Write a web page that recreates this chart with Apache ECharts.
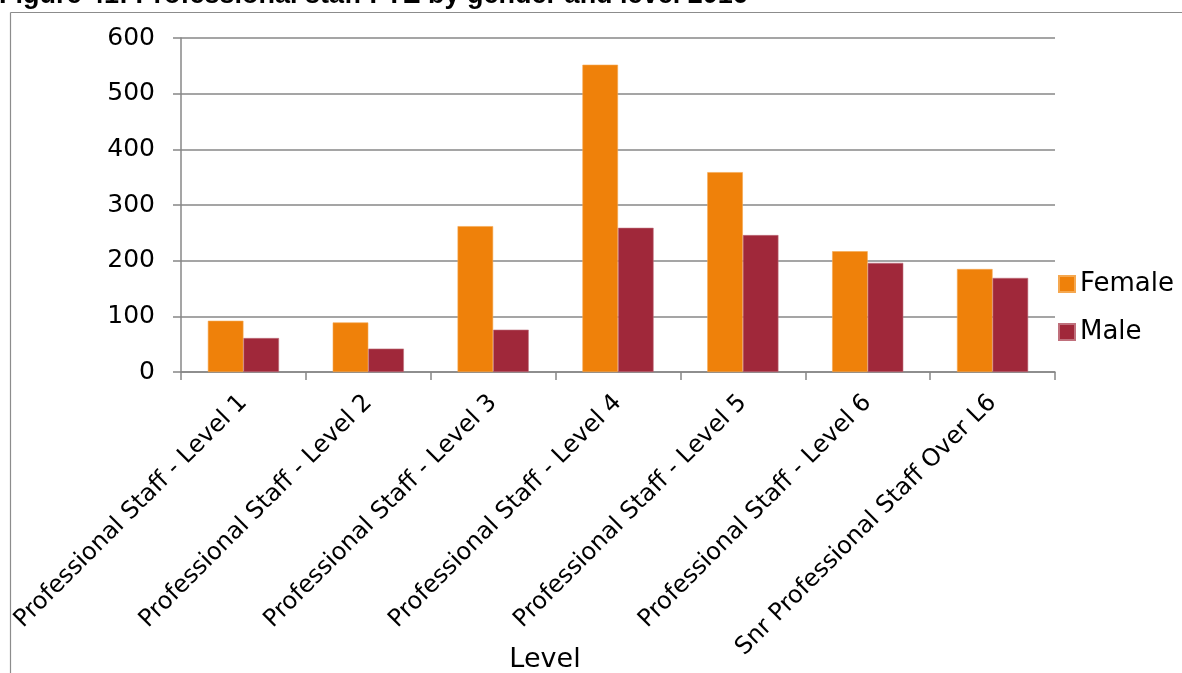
<!DOCTYPE html>
<html>
<head>
<meta charset="utf-8">
<script src="https://cdn.jsdelivr.net/npm/echarts@6/dist/echarts.min.js"></script>
<style>
  html, body { margin: 0; padding: 0; background: #fff; }
  #chart { width: 1182px; height: 673px; }
</style>
</head>
<body>
<div id="chart"></div>
<script>
// Professional staff FTE by gender and level, 2016
const levels = [
  'Professional Staff - Level 1',
  'Professional Staff - Level 2',
  'Professional Staff - Level 3',
  'Professional Staff - Level 4',
  'Professional Staff - Level 5',
  'Professional Staff - Level 6',
  'Snr Professional Staff Over L6'
];
const female = [92, 89, 262, 552, 359, 217, 185];
const male = [61, 42, 76, 259, 246, 196, 169];
const seriesNames = ['Female', 'Male'];
const yTicks = { min: 0, max: 600, interval: 100 };
const titleText = 'Figure 41: Professional staff FTE by gender and level 2016';
const axisTitle = 'Level';

const font = '"DejaVu Sans", Verdana, sans-serif';
const gridColor = '#878787';

const chart = echarts.init(document.getElementById('chart'), null, { renderer: 'canvas' });
chart.setOption({
  backgroundColor: '#ffffff',
  animation: false,
  grid: { left: 181, right: 127, top: 38, bottom: 301, containLabel: false },
  legend: {
    orient: 'vertical',
    left: 1058,
    top: 271,
    padding: 0,
    itemWidth: 16,
    itemHeight: 16,
    itemGap: 22,
    icon: 'rect',
    textStyle: { fontFamily: font, fontSize: 26, lineHeight: 26, color: '#000' },
    data: seriesNames
  },
  xAxis: {
    type: 'category',
    data: levels,
    axisLine: { show: true, lineStyle: { color: gridColor, width: 1.5 } },
    axisTick: { show: true, length: 8, alignWithLabel: false, lineStyle: { color: gridColor, width: 1.5 } },
    axisLabel: {
      interval: 0,
      rotate: 45,
      margin: 27,
      fontFamily: font,
      fontSize: 24,
      color: '#000'
    },
    splitLine: { show: false }
  },
  yAxis: {
    type: 'value',
    min: yTicks.min,
    max: yTicks.max,
    interval: yTicks.interval,
    axisLine: { show: true, lineStyle: { color: gridColor, width: 1.5 } },
    axisTick: { show: true, length: 8, lineStyle: { color: gridColor, width: 1.5 } },
    axisLabel: { margin: 26, fontFamily: font, fontSize: 25, color: '#000' },
    splitLine: { show: true, lineStyle: { color: gridColor, width: 1.5 } }
  },
  series: [
    {
      name: seriesNames[0],
      type: 'bar',
      data: female,
      barGap: '0%',
      barCategoryGap: '43%',
      itemStyle: { color: '#EF810A', borderColor: '#F5A850', borderWidth: 0.6 }
    },
    {
      name: seriesNames[1],
      type: 'bar',
      data: male,
      itemStyle: { color: '#A0283A', borderColor: '#C0707C', borderWidth: 0.6 }
    }
  ],
  graphic: [
    {
      type: 'text',
      left: -1,
      top: -18,
      style: {
        text: titleText,
        fontFamily: '"Liberation Sans", Arial, sans-serif',
        fontWeight: 'bold',
        fontSize: 27,
        fill: '#000'
      }
    },
    {
      type: 'line',
      shape: { x1: 10.5, y1: 12.5, x2: 1182, y2: 12.5 },
      style: { stroke: '#8c8c8c', lineWidth: 1.2 }
    },
    {
      type: 'line',
      shape: { x1: 10.5, y1: 12.5, x2: 10.5, y2: 673 },
      style: { stroke: '#8c8c8c', lineWidth: 1.2 }
    },
    {
      type: 'text',
      x: 545,
      y: 660,
      style: {
        text: axisTitle,
        fontFamily: font,
        fontSize: 27,
        fill: '#000',
        align: 'center',
        verticalAlign: 'middle'
      }
    }
  ]
});
</script>
</body>
</html>
